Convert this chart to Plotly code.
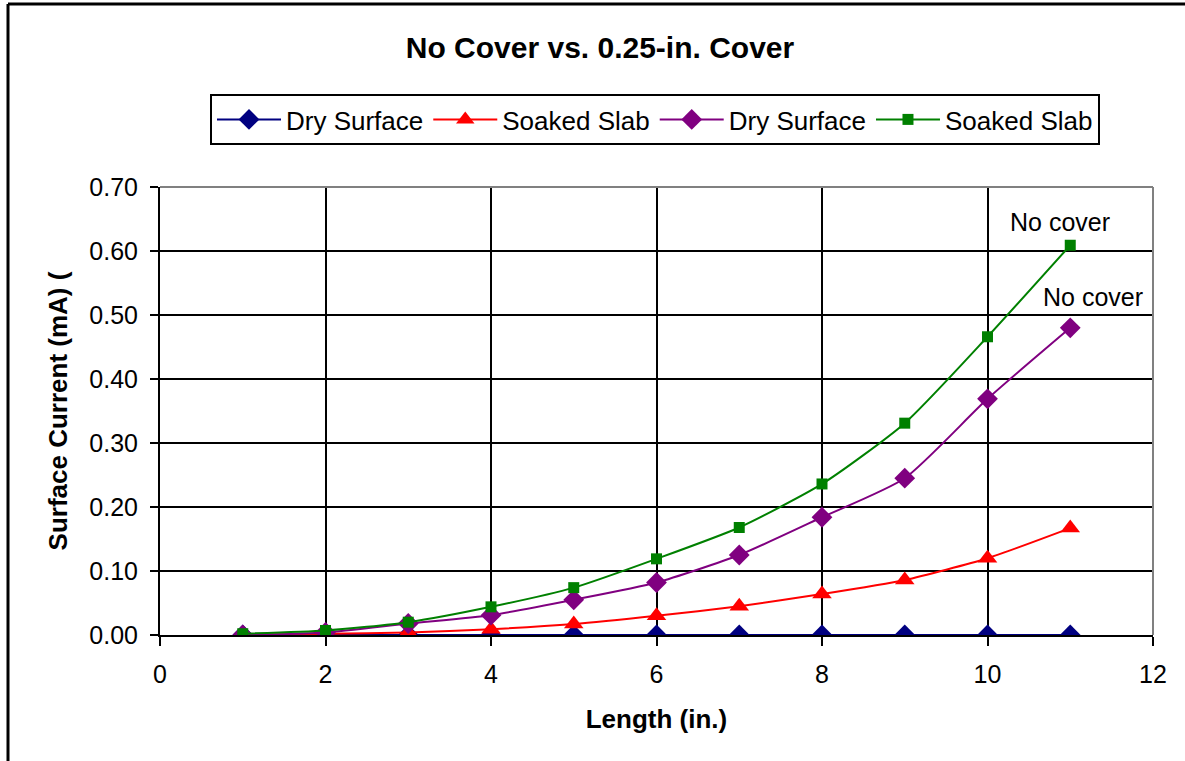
import plotly.graph_objects as go

length_in = [1, 2, 3, 4, 5, 6, 7, 8, 9, 10, 11]
dry_cover = [0.000, 0.000, 0.000, 0.000, 0.000, 0.000, 0.000, 0.000, 0.000, 0.000, 0.000]
soaked_cover = [0.000, 0.002, 0.004, 0.009, 0.017, 0.030, 0.045, 0.064, 0.086, 0.120, 0.167]
dry_nocover = [0.000, 0.004, 0.018, 0.031, 0.055, 0.082, 0.125, 0.184, 0.245, 0.369, 0.480]
soaked_nocover = [0.002, 0.007, 0.020, 0.044, 0.074, 0.119, 0.168, 0.236, 0.331, 0.466, 0.609]

series_names = ["Dry Surface", "Soaked Slab", "Dry Surface", "Soaked Slab"]
series_values = [dry_cover, soaked_cover, dry_nocover, soaked_nocover]
series_colors = ["#000080", "#FF0000", "#800080", "#008000"]
series_symbols = ["diamond", "triangle-up", "diamond", "square"]
series_sizes = [16, 17, 16, 11]

x_ticks = [0, 2, 4, 6, 8, 10, 12]
y_ticks = [0.0, 0.1, 0.2, 0.3, 0.4, 0.5, 0.6, 0.7]

FONT = "Liberation Sans, Arial, sans-serif"

fig = go.Figure()
for name, vals, col, sym, sz in zip(series_names, series_values, series_colors, series_symbols, series_sizes):
    fig.add_trace(go.Scatter(
        x=length_in, y=vals, name=name, mode="lines+markers",
        line=dict(color=col, width=2, shape="spline", smoothing=0.6),
        marker=dict(symbol=sym, size=sz, color=col),
    ))

fig.add_annotation(x=11, y=0.609, text="No cover", showarrow=False,
                   xanchor="center", yanchor="bottom", yshift=7, xshift=-10,
                   font=dict(family=FONT, size=25, color="black"))
fig.add_annotation(x=11, y=0.480, text="No cover", showarrow=False,
                   xanchor="center", yanchor="bottom", yshift=15, xshift=23,
                   font=dict(family=FONT, size=25, color="black"))

W, H = 1185, 761
L, R, T, B = 160, 32, 187, 126
pw, ph = W - L - R, H - T - B

# outer chart frame (left and top visible)
fx = (8 - L) / pw
fy = 1 + (T - 4) / ph
fig.add_shape(type="line", xref="paper", yref="paper", x0=fx, x1=fx, y0=-1, y1=fy,
              line=dict(color="black", width=3))
fig.add_shape(type="line", xref="paper", yref="paper", x0=fx, x1=2, y0=fy, y1=fy,
              line=dict(color="black", width=3))
# plot area right/top border (gray)
fig.add_shape(type="line", xref="paper", yref="paper", x0=1, x1=1, y0=0, y1=1,
              layer="above", line=dict(color="#808080", width=2))
fig.add_shape(type="line", xref="paper", yref="paper", x0=0, x1=1, y0=1, y1=1,
              layer="above", line=dict(color="#808080", width=2))

fig.update_layout(
    width=W, height=H,
    margin=dict(l=L, r=R, t=T, b=B),
    paper_bgcolor="white", plot_bgcolor="white",
    font=dict(family=FONT, color="black"),
    title=dict(text="<b>No Cover vs. 0.25-in. Cover</b>", x=600 / W, xref="container",
               xanchor="center", y=1 - 47 / H, yref="container", yanchor="middle",
               font=dict(family=FONT, size=30, color="black")),
    legend=dict(orientation="h", x=(208 + 1102) / 2 / W, xref="container", xanchor="center",
                y=1 - 94 / H, yref="container", yanchor="top",
                bordercolor="black", borderwidth=2, bgcolor="white",
                font=dict(family=FONT, size=26, color="black"),
                itemwidth=64),
    xaxis=dict(range=[0, 12], tickvals=x_ticks, ticktext=[str(v) for v in x_ticks],
               showgrid=True, gridcolor="black", gridwidth=2,
               showline=True, linecolor="black", linewidth=2,
               ticks="outside", ticklen=9, tickwidth=2, tickcolor="black",
               ticklabelstandoff=7,
               tickfont=dict(family=FONT, size=25, color="black"),
               zeroline=False,
               title=dict(text="<b>Length (in.)</b>", standoff=23,
                          font=dict(family=FONT, size=26, color="black"))),
    yaxis=dict(range=[0, 0.7], tickvals=y_ticks, tickformat=".2f",
               showgrid=True, gridcolor="black", gridwidth=2,
               showline=True, linecolor="black", linewidth=2,
               ticks="outside", ticklen=8, tickwidth=2, tickcolor="black",
               ticklabelstandoff=7,
               tickfont=dict(family=FONT, size=25, color="black"),
               zeroline=False,
               title=dict(text="<b>Surface Current (mA) (</b>", standoff=14,
                          font=dict(family=FONT, size=26, color="black"))),
)

fig.write_html("out.html")
